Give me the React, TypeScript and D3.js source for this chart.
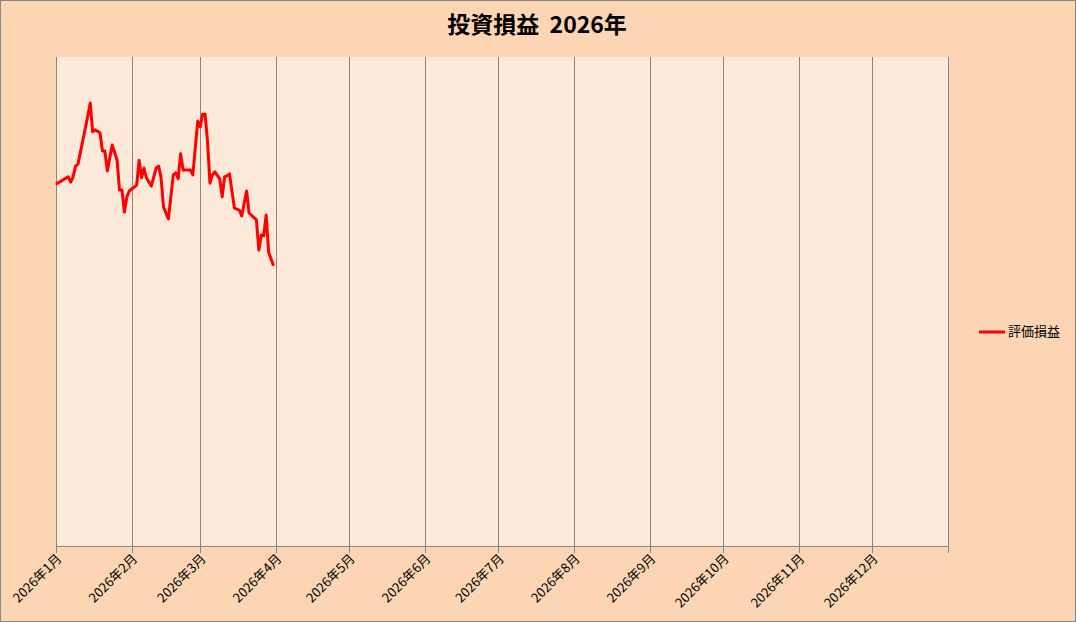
import React from "react";
import * as d3 from "d3";

const dates: string[] = [
  "2026-01-01","2026-01-06","2026-01-07","2026-01-08","2026-01-09","2026-01-10",
  "2026-01-14","2026-01-15","2026-01-16","2026-01-17","2026-01-19","2026-01-20",
  "2026-01-21","2026-01-22","2026-01-24","2026-01-26","2026-01-27","2026-01-28",
  "2026-01-29","2026-01-30","2026-01-31","2026-02-01","2026-02-03","2026-02-04",
  "2026-02-05","2026-02-06","2026-02-07","2026-02-09","2026-02-11","2026-02-12",
  "2026-02-13","2026-02-14","2026-02-16","2026-02-18","2026-02-19","2026-02-20",
  "2026-02-21","2026-02-22","2026-02-25","2026-02-26","2026-02-27","2026-02-28",
  "2026-03-01","2026-03-02","2026-03-03","2026-03-04","2026-03-05","2026-03-06",
  "2026-03-07","2026-03-09","2026-03-10","2026-03-11","2026-03-12","2026-03-13",
  "2026-03-15","2026-03-16","2026-03-17","2026-03-18","2026-03-20","2026-03-21",
  "2026-03-24","2026-03-25","2026-03-26","2026-03-27","2026-03-28","2026-03-29",
  "2026-03-31",
];

const values: number[] = [
  24.0, 25.5, 24.4, 25.5, 27.7, 28.1,
  37.9, 40.6, 34.7, 35.1, 34.5, 30.8,
  30.8, 26.7, 32.0, 28.9, 22.8, 22.8,
  18.3, 21.4, 22.6, 23.0, 23.8, 28.9,
  25.3, 27.3, 25.3, 23.6, 27.3, 27.7,
  25.3, 19.3, 16.9, 25.9, 26.3, 25.1,
  30.2, 26.9, 26.9, 25.9, 31.4, 36.9,
  35.7, 38.3, 38.3, 32.8, 24.2, 25.9,
  26.5, 25.1, 21.4, 25.5, 25.7, 26.1,
  19.1, 18.9, 18.7, 17.5, 22.6, 18.1,
  16.7, 10.5, 13.6, 13.4, 17.7, 10.1,
  7.3,
];

const monthTicks: string[] = [
  "2026-01-01","2026-02-01","2026-03-01","2026-04-01","2026-05-01","2026-06-01",
  "2026-07-01","2026-08-01","2026-09-01","2026-10-01","2026-11-01","2026-12-01",
  "2027-01-01",
];
const monthLabels: string[] = [
  "2026年1月","2026年2月","2026年3月","2026年4月","2026年5月","2026年6月",
  "2026年7月","2026年8月","2026年9月","2026年10月","2026年11月","2026年12月",
];

const title = "投資損益  2026年";
const seriesName = "評価損益";

const W = 1076, H = 622;
const PL = 56, PR = 948, PT = 57, PB = 546;

export default function App() {
  const parse = d3.timeParse("%Y-%m-%d");
  const x = d3.scaleTime()
    .domain([parse("2026-01-01") as Date, parse("2027-01-01") as Date])
    .range([PL, PR]);
  const y = d3.scaleLinear().domain([-50, 50]).range([PB, PT]);
  const data = dates.map((d, i) => ({ d: parse(d) as Date, v: values[i] }));
  const line = d3.line<{ d: Date; v: number }>()
    .x((p) => x(p.d))
    .y((p) => y(p.v));
  const font = "'Noto Sans CJK JP', 'Noto Sans', sans-serif";
  const ticks = monthTicks.map((t) => parse(t) as Date);

  return (
    <div style={{ position: "absolute", left: 0, top: 0 }}>
      <svg width={W} height={H} style={{ display: "block" }}>
        <rect x={0.5} y={0.5} width={W - 1} height={H - 1} fill="#FCD5B4" stroke="#868686" strokeWidth={1} />
        <rect x={PL} y={PT} width={PR - PL} height={PB - PT} fill="#FDE9D9" />
        {ticks.map((t, i) => {
          const xx = Math.round(x(t)) + 0.5;
          return (
            <line key={"g" + i} x1={xx} x2={xx} y1={PT} y2={PB + 7} stroke="#868686" strokeWidth={1} />
          );
        })}
        <line x1={PL} x2={PR + 1} y1={PB + 0.5} y2={PB + 0.5} stroke="#868686" strokeWidth={1} />
        {monthLabels.map((lab, i) => {
          const xx = x(ticks[i]);
          return (
            <text
              key={"l" + i}
              transform={`translate(${xx + 4},${PB + 11}) rotate(-45)`}
              textAnchor="end"
              dominantBaseline="middle"
              fontSize={13}
              fontFamily={font}
              fill="#000"
            >
              {lab}
            </text>
          );
        })}
        <path d={line(data) || ""} fill="none" stroke="#FF0000" strokeWidth={3} strokeLinejoin="round" />
        <text x={537} y={27} textAnchor="middle" dominantBaseline="middle" fontSize={23} fontWeight="bold" fontFamily={font} fill="#000" style={{ whiteSpace: "pre" }}>
          {title}
        </text>
        <line x1={979} x2={1005} y1={332} y2={332} stroke="#FF0000" strokeWidth={3} />
        <text x={1008} y={332} dominantBaseline="middle" fontSize={13} fontFamily={font} fill="#000">
          {seriesName}
        </text>
      </svg>
    </div>
  );
}
